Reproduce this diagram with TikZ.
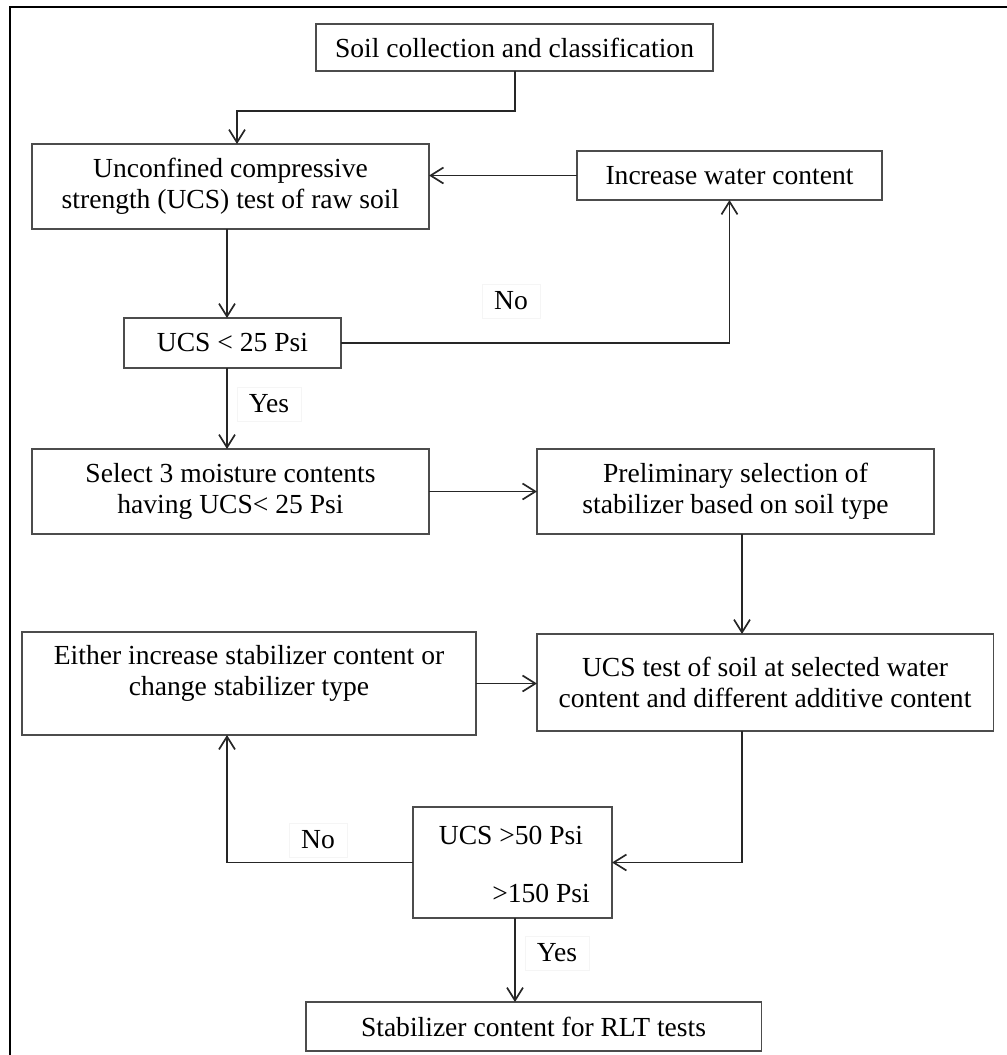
\documentclass[tikz,border=0pt]{standalone}
\usepackage{fontspec}
\setmainfont{Liberation Serif}
\usetikzlibrary{arrows.meta}
\tikzstyle{stepbox}=[draw=black!70, line width=0.8pt, inner sep=0pt, outer sep=0pt, align=center, font=\fontsize{19.6}{22.1}\selectfont]
\tikzstyle{answer}=[fill=white, draw=black!4, inner xsep=0.3cm, inner ysep=0.2cm, font=\fontsize{19.6}{22.1}\selectfont]
\tikzstyle{plain}=[inner sep=0pt, font=\fontsize{19.6}{22.1}\selectfont]
\tikzstyle{flow}=[line width=1.2pt, black!85, -{Straight Barb[length=3.2mm,width=4mm]}]

\begin{document}
\begin{tikzpicture}[x=0.025cm, y=-0.025cm]
 \useasboundingbox (0,0) rectangle (1007,1055);
 \draw[line width=1.5pt] (1007,7) -- (10,7) -- (10,1056);
%
 \node[stepbox, minimum width=9.925cm, minimum height=1.175cm] (collect) at (514.5,47.5) {Soil collection and classification};
 \node[stepbox, minimum width=9.925cm, minimum height=2.125cm] (raw) at (230.5,186.5) {Unconfined compressive\\strength (UCS) test of raw soil};
 \node[stepbox, minimum width=7.625cm, minimum height=1.225cm] (water) at (729.5,175.5) {Increase water content};
 \node[stepbox, minimum width=5.425cm, minimum height=1.25cm] (lt25) at (232.5,343) {UCS < 25 Psi};
 \node[stepbox, minimum width=9.925cm, minimum height=2.125cm] (moist) at (230.5,491.5) {Select 3 moisture contents\\having UCS< 25 Psi};
 \node[stepbox, minimum width=9.925cm, minimum height=2.125cm] (prelim) at (735.5,491.5) {Preliminary selection of\\stabilizer based on soil type};
 \node[stepbox, minimum width=11.4cm, minimum height=2.425cm] (mix) at (765,682.5) {UCS test of soil at selected water\\content and different additive content};
 \node[stepbox, minimum width=11.35cm, minimum height=2.575cm] (either) at (249,683.5) {\raisebox{7pt}[\height][\depth]{\begin{tabular}{@{}c@{}}Either increase stabilizer content or\\change stabilizer type\end{tabular}}};
 \node[stepbox, minimum width=4.975cm, minimum height=2.775cm] (check) at (512.5,862.5) {};
 \node[plain] (ucsa) at (511,835) {UCS >50 Psi};
 \node[plain] (ucsb) at (541,893) {>150 Psi};
 \node[stepbox, minimum width=11.375cm, minimum height=1.225cm] (rlt) at (533.5,1026.5) {Stabilizer content for RLT tests};
%
 \node[answer] (no1) at (511,301) {No};
 \node[answer] (yes1) at (269,404) {Yes};
 \node[answer] (no2) at (318,840) {No};
 \node[answer] (yes2) at (557,953) {Yes};
%
 \coordinate (colL) at (227,0);
 \coordinate (colM) at (515,0);
 \coordinate (colR) at (742,0);
 \coordinate (kink) at (237,111);
%
 \draw[flow] (collect.south -| colM) |- (kink) -- (raw.north -| kink);
 \draw[flow] (water.west) -- (water.west -| raw.east);
 \draw[flow] (raw.south -| colL) -- (lt25.north -| colL);
 \draw[flow] (lt25.east) -| (water.south);
 \draw[flow] (lt25.south -| colL) -- (moist.north -| colL);
 \draw[flow] (moist.east) -- (prelim.west);
 \draw[flow] (prelim.south -| colR) -- (mix.north -| colR);
 \draw[flow] (either.east) -- (either.east -| mix.west);
 \draw[flow] (mix.south -| colR) |- (check.east);
 \draw[flow] (check.west) -| (either.south -| colL);
 \draw[flow] (check.south -| colM) -- (rlt.north -| colM);
\end{tikzpicture}
\end{document}
